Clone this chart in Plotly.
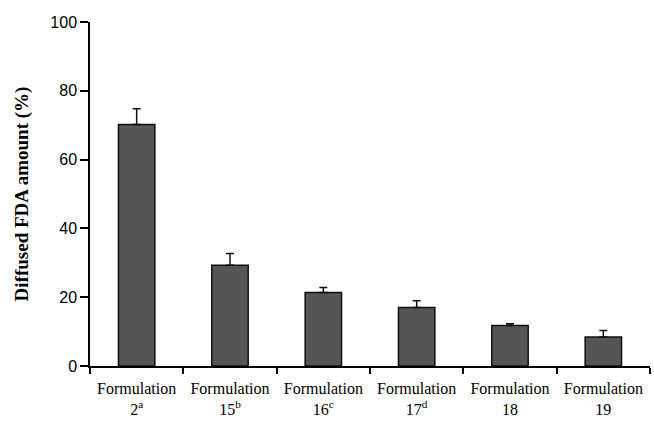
import plotly.graph_objects as go

categories = ["Formulation<br>2<sup>a</sup>", "Formulation<br>15<sup>b</sup>", "Formulation<br>16<sup>c</sup>",
              "Formulation<br>17<sup>d</sup>", "Formulation<br>18", "Formulation<br>19"]
values = [70.2, 29.3, 21.4, 17.0, 11.8, 8.4]
errors = [4.6, 3.4, 1.4, 2.0, 0.5, 1.9]
y_ticks = [0, 20, 40, 60, 80, 100]

SERIF = "Liberation Serif, Times New Roman, serif"
SANS = "Liberation Sans, Arial, sans-serif"

fig = go.Figure()
fig.add_trace(go.Bar(
    x=categories, y=values,
    marker=dict(color="#555555", line=dict(color="#111111", width=1.5)),
    width=0.39,
    error_y=dict(type="data", array=errors, symmetric=False, arrayminus=[0]*len(errors),
                 color="#111111", thickness=1.5, width=4),
))

fig.update_layout(
    width=654, height=421,
    margin=dict(l=90, r=4, t=22, b=55),
    paper_bgcolor="white", plot_bgcolor="white",
    showlegend=False,
    xaxis=dict(
        automargin=False,
        showline=True, linecolor="black", linewidth=1.5,
        ticks="outside", ticklen=6, tickcolor="black", tickwidth=1.5,
        tickson="boundaries",
        ticklabelstandoff=7,
        tickfont=dict(family=SERIF, size=16, color="black"),
        showgrid=False,
    ),
    yaxis=dict(
        automargin=False,
        range=[0, 100], tickvals=y_ticks,
        showline=True, linecolor="black", linewidth=1.5,
        ticks="outside", ticklen=8, tickcolor="black", tickwidth=1.5,
        tickfont=dict(family=SANS, size=16, color="black"),
        showgrid=False, zeroline=False,
        title=dict(text="<b>Diffused FDA amount (%)</b>",
                   font=dict(family=SERIF, size=19, color="black"),
                   standoff=17),
    ),
)

fig.write_html("out.html", config={"displayModeBar": False},
               post_script="document.body.style.margin='0px';document.body.style.overflow='hidden';")
